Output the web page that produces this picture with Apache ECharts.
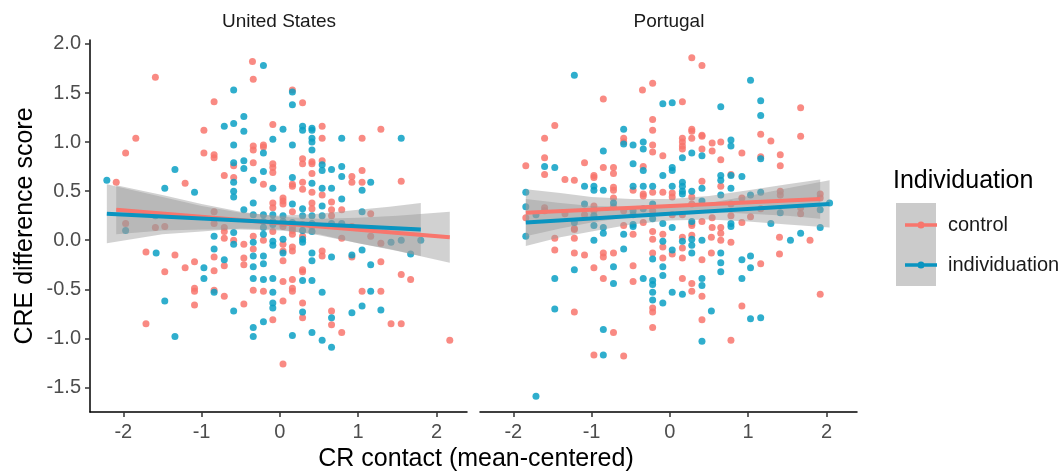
<!DOCTYPE html>
<html>
<head>
<meta charset="utf-8">
<script src="https://cdn.jsdelivr.net/npm/echarts@6/dist/echarts.min.js"></script>
<style>
  html, body { margin: 0; padding: 0; background: #fff; }
  #chart { width: 1062px; height: 472px; }
</style>
</head>
<body>
<div id="chart"></div>
<script>
// tick labels
var xTicks = [-2, -1, 0, 1, 2];
var yTicks = [-1.5, -1, -0.5, 0, 0.5, 1, 1.5, 2];
var groups = ['control', 'individuation'];

// United States, control
var usControl = [
  [-0.35,1.82],[-1.59,1.66],[-0.34,1.64],[-0.84,1.41],[-0.09,1.18],[-0.97,1.12],[-1.84,1.04],[-1.97,0.89],
  [-0.97,0.89],[-0.84,0.87],[-0.84,0.84],[-0.34,0.96],[-0.34,0.92],[-0.21,0.97],[-0.21,0.95],[-0.59,0.76],
  [-0.34,0.79],[-0.09,0.78],[-0.09,0.74],[-0.09,0.69],[-0.71,0.66],[-0.59,0.64],[-2.09,0.59],[-1.21,0.58],
  [-0.21,0.57],[0.04,0.43],[0.04,0.40],[-0.09,0.38],[-0.09,0.33],[-0.84,0.29],[0.04,0.17],[-1.97,0.17],
  [-1.59,0.13],[-1.47,0.14],[-0.84,0.17],[-0.71,0.13],[-0.71,0.09],[-0.71,0.02],[-0.59,0.00],[-0.46,-0.04],
  [-0.34,0.04],[-0.34,-0.09],[-0.21,0.00],[0.04,-0.04],[-1.71,-0.12],[-1.34,-0.15],[-0.84,-0.17],[-0.71,-0.26],
  [-0.46,-0.18],[-0.46,-0.25],[0.04,-0.21],[-1.09,-0.22],[-1.21,-0.28],[-0.84,-0.31],[-1.47,-0.32],[0.04,-0.42],
  [-1.09,-0.49],[-1.09,-0.52],[-0.84,-0.51],[-0.34,-0.51],[-0.21,-0.52],[-0.71,-0.57],[-1.09,-0.66],[-0.46,-0.65],
  [0.04,-0.62],[-0.09,-0.81],[-1.71,-0.85],[0.04,-1.26],
  [0.16,1.53],[0.29,1.40],[0.54,1.16],[0.54,1.04],[1.05,1.04],[1.29,1.13],[0.29,0.83],[0.29,0.78],
  [0.41,0.80],[0.41,0.78],[0.54,0.81],[0.41,0.68],[0.92,0.65],[0.92,0.59],[1.05,0.71],[1.05,0.59],
  [1.55,0.60],[0.16,0.57],[0.16,0.55],[0.29,0.59],[0.29,0.52],[0.41,0.49],[0.54,0.46],[0.04,0.37],
  [0.41,0.38],[0.41,0.32],[0.66,0.39],[0.66,0.31],[0.79,0.31],[0.16,0.29],[0.66,0.25],[1.16,0.27],
  [0.04,0.14],[0.29,0.16],[0.92,0.14],[0.16,0.13],[0.16,0.10],[0.16,0.06],[0.41,0.14],[0.79,0.02],
  [1.16,0.04],[1.29,-0.03],[-0.09,0.09],[0.04,-0.11],[0.16,-0.07],[0.16,-0.11],[0.29,0.04],[0.54,-0.11],
  [0.54,-0.16],[0.92,-0.17],[1.29,-0.22],[1.55,-0.35],[1.67,-0.40],[0.16,-0.40],[0.29,-0.30],[0.29,-0.32],
  [0.16,-0.49],[0.16,-0.52],[0.29,-0.64],[0.29,-0.79],[0.66,-0.72],[0.66,-0.86],[0.79,-0.94],[1.05,-0.52],
  [1.29,-0.52],[1.42,-0.85],[1.55,-0.85],[2.17,-1.02]
];
// United States, individuation
var usIndiv = [
  [-0.21,1.78],[-0.59,1.53],[-0.46,1.26],[-0.71,1.16],[-0.59,1.19],[0.04,1.13],[-0.46,1.11],[-0.09,1.03],
  [-0.59,0.97],[-0.21,0.89],[-0.59,0.79],[-0.46,0.81],[-0.46,0.73],[-1.34,0.72],[-0.59,0.59],[-0.21,0.70],
  [-0.34,0.61],[-2.21,0.61],[-0.09,0.53],[-1.47,0.53],[-1.09,0.49],[-0.59,0.50],[-0.59,0.44],[-0.34,0.38],
  [-0.46,0.31],[-0.34,0.26],[-0.21,0.26],[-0.09,0.26],[-1.59,0.25],[-0.21,0.19],[-0.09,0.19],[-0.09,0.16],
  [0.04,0.25],[-1.97,0.10],[-0.59,0.08],[-0.84,0.04],[-0.59,-0.04],[-0.34,-0.02],[-0.21,0.13],[-0.21,0.06],
  [-0.09,-0.01],[-0.09,-0.05],[0.04,0.01],[-1.58,-0.13],[-0.84,-0.09],[-0.71,-0.20],[-0.34,-0.16],[-0.21,-0.16],
  [-0.21,-0.24],[-0.34,-0.27],[0.04,-0.13],[-0.97,-0.28],[-0.97,-0.39],[-0.34,-0.39],[-0.21,-0.40],[-0.09,-0.39],
  [-0.84,-0.53],[-0.09,-0.53],[-1.47,-0.62],[-0.09,-0.64],[-0.09,-0.69],[-0.59,-0.72],[-0.21,-0.83],[-0.34,-0.89],
  [-0.34,-0.98],[-1.34,-0.98],
  [0.16,1.51],[0.16,1.38],[0.29,1.16],[0.29,1.12],[0.41,1.14],[0.41,1.12],[0.16,0.97],[0.41,1.04],
  [0.79,1.04],[1.55,1.04],[0.41,1.00],[0.41,0.92],[0.54,0.77],[0.54,0.71],[0.66,0.72],[0.79,0.75],
  [0.79,0.65],[0.16,0.64],[1.05,0.51],[1.16,0.59],[0.41,0.58],[0.54,0.53],[0.66,0.53],[0.79,0.42],
  [0.16,0.37],[0.29,0.32],[0.54,0.35],[0.29,0.25],[0.41,0.25],[0.54,0.25],[1.05,0.29],[0.04,0.19],
  [0.16,0.18],[0.41,0.17],[0.66,0.17],[0.79,0.17],[0.29,0.10],[0.41,0.09],[1.42,-0.02],[1.55,0.00],
  [1.80,0.00],[0.29,0.01],[0.29,-0.02],[0.41,-0.13],[0.41,-0.21],[0.66,-0.17],[0.92,-0.15],[1.05,-0.10],
  [1.16,-0.25],[1.67,-0.14],[0.29,-0.41],[0.41,-0.41],[0.29,-0.73],[0.54,-0.53],[0.66,-0.79],[0.92,-0.74],
  [1.16,-0.52],[1.05,-0.67],[1.29,-0.71],[0.16,-0.97],[0.41,-0.94],[0.54,-1.02],[0.66,-1.09]
];
// Portugal, control
var ptControl = [
  [-0.22,1.60],[-0.35,1.53],[-0.85,1.44],[-1.47,1.17],[-1.60,1.04],[-0.22,1.23],[-0.22,1.12],[-0.59,1.04],
  [-0.59,1.00],[-0.22,0.97],[-0.22,0.90],[-1.60,0.84],[-0.09,0.86],[-1.84,0.76],[-1.09,0.79],[-0.85,0.74],
  [-0.72,0.74],[-0.72,0.68],[-0.34,0.75],[-1.60,0.67],[-1.34,0.62],[-1.22,0.61],[-0.97,0.66],[-0.97,0.64],
  [-0.72,0.54],[-0.72,0.51],[-0.72,0.43],[-0.47,0.51],[-0.34,0.47],[-0.34,0.45],[-0.22,0.49],[-0.09,0.49],
  [-1.84,0.23],[-1.60,0.33],[-1.60,0.30],[-1.34,0.27],[-1.09,0.26],[-0.97,0.35],[-0.97,0.30],[-0.72,0.34],
  [-0.59,0.30],[-0.22,0.30],[-1.22,0.12],[-0.59,0.15],[-0.34,0.18],[-1.47,0.02],[-1.47,-0.10],[-1.22,0.11],
  [-1.22,0.02],[-1.22,-0.13],[-1.09,-0.15],[-0.97,-0.28],[-0.85,-0.13],[-0.85,-0.17],[-0.72,-0.13],[-0.85,-0.39],
  [-0.47,0.06],[-0.47,-0.26],[-0.47,-0.42],[-0.22,0.09],[-0.22,0.01],[-0.22,-0.13],[-0.22,-0.69],[-0.22,-0.73],
  [-0.22,-0.89],[-0.09,0.06],[-0.09,-0.07],[-0.09,-0.18],[-1.22,-0.73],[-0.72,-0.94],[-0.97,-1.17],[-0.59,-1.18],
  [0.28,1.86],[0.41,1.78],[0.16,1.41],[1.67,1.35],[0.28,1.13],[0.28,1.11],[0.28,1.04],[0.41,1.07],
  [0.41,1.06],[0.16,1.04],[0.16,1.00],[0.16,0.96],[0.16,0.93],[0.65,1.00],[1.16,1.08],[1.29,1.01],
  [1.67,1.06],[0.54,0.99],[0.41,0.93],[0.54,0.91],[0.65,0.82],[0.92,0.89],[1.16,0.85],[1.41,0.87],
  [1.41,0.76],[0.78,0.67],[0.41,0.60],[0.65,0.55],[0.03,0.48],[0.03,0.44],[0.28,0.44],[0.92,0.43],
  [1.41,0.50],[1.41,0.46],[1.92,0.47],[1.92,0.43],[0.28,0.37],[0.78,0.37],[1.16,0.32],[1.67,0.33],
  [1.67,0.27],[0.03,0.26],[0.16,0.26],[0.28,0.17],[0.41,0.19],[0.54,0.23],[0.78,0.25],[0.92,0.18],
  [1.03,0.24],[0.54,0.13],[0.65,0.13],[0.28,0.15],[0.65,0.07],[0.03,-0.14],[0.16,0.03],[0.16,-0.08],
  [0.16,-0.18],[0.28,0.05],[0.41,-0.20],[0.53,0.03],[0.53,-0.13],[0.65,0.00],[0.78,-0.02],[1.16,-0.24],
  [1.40,0.03],[1.79,0.00],[1.40,-0.14],[0.16,-0.39],[0.28,-0.44],[0.28,-0.52],[0.41,-0.57],[0.41,-0.81],
  [0.92,-0.67],[1.92,-0.55],[0.78,-1.02]
];
// Portugal, individuation
var ptIndiv = [
  [-1.22,1.68],[-0.09,1.39],[-0.59,1.13],[-0.59,0.98],[-0.47,0.97],[-0.34,1.00],[-0.34,0.93],[-0.85,0.91],
  [-1.60,0.75],[-1.47,0.74],[-0.47,0.78],[-0.34,0.71],[-0.09,0.66],[-1.09,0.55],[-0.97,0.55],[-0.97,0.51],
  [-0.85,0.51],[-0.47,0.55],[-0.34,0.55],[-0.22,0.55],[-1.84,0.49],[-1.84,0.34],[-1.71,0.26],[-1.09,0.37],
  [-0.97,0.25],[-0.72,0.38],[-0.47,0.30],[-0.47,0.26],[-0.34,0.32],[-0.22,0.37],[-1.22,0.18],[-0.97,0.15],
  [-0.85,0.13],[-0.47,0.16],[-0.22,0.22],[-0.09,0.17],[-1.84,0.04],[-0.97,0.00],[-0.85,0.07],[-0.72,-0.27],
  [-0.72,-0.44],[-0.59,0.06],[-0.59,-0.09],[-0.47,0.14],[-0.34,-0.39],[-0.22,-0.19],[-0.22,-0.41],[-0.22,-0.45],
  [-0.22,-0.53],[-0.22,-0.61],[-0.09,-0.01],[-0.09,-0.27],[-0.09,-0.36],[-0.09,-0.64],[-1.47,-0.39],[-1.22,-0.30],
  [-1.47,-0.70],[-0.85,-0.91],[-0.85,-1.17],[-1.71,-1.59],
  [1.03,1.63],[0.03,1.40],[0.65,1.36],[1.16,1.42],[1.16,1.27],[0.78,1.02],[0.78,0.96],[0.28,0.89],
  [0.41,0.86],[0.16,0.84],[1.16,0.83],[0.03,0.74],[0.03,0.71],[0.16,0.59],[0.16,0.55],[0.03,0.55],
  [0.65,0.66],[0.65,0.61],[0.78,0.66],[0.92,0.65],[0.78,0.53],[0.28,0.50],[0.16,0.50],[0.16,0.47],
  [0.41,0.53],[0.65,0.46],[1.03,0.46],[1.16,0.49],[2.04,0.38],[0.41,0.40],[1.41,0.28],[1.92,0.31],
  [0.28,0.19],[0.78,0.17],[0.78,0.14],[1.29,0.17],[0.03,0.13],[1.92,0.13],[1.67,0.07],[0.16,-0.01],
  [0.28,0.01],[0.28,-0.05],[0.28,-0.13],[0.41,0.00],[0.03,-0.10],[0.65,-0.13],[0.65,-0.23],[0.65,-0.32],
  [0.92,-0.20],[1.03,-0.16],[1.03,-0.28],[1.54,0.00],[0.03,-0.53],[0.16,-0.55],[0.41,-0.39],[0.41,-0.46],
  [0.92,-0.39],[0.53,-0.72],[1.03,-0.80],[1.16,-0.79],[0.41,-1.03]
];

// fitted lines (ends)
var usControlFit = [[-2.09, 0.31], [2.17, 0.03]];
var usIndivFit = [[-2.21, 0.27], [1.80, 0.11]];
var ptControlFit = [[-1.84, 0.28], [1.92, 0.42]];
var ptIndivFit = [[-1.84, 0.18], [2.04, 0.37]];

// confidence bands: [x, lower, upper]
var usControlBand = [[-2.09,0.06,0.56],[-1.5,0.10,0.46],[-1,0.11,0.37],[-0.5,0.11,0.29],[0,0.10,0.24],[0.5,0.06,0.22],[1,-0.03,0.23],[1.5,-0.11,0.25],[2.17,-0.23,0.29]];
var usIndivBand = [[-2.21,-0.03,0.57],[-1.5,0.06,0.44],[-1,0.09,0.35],[-0.5,0.12,0.28],[0,0.11,0.25],[0.5,0.05,0.27],[1,-0.03,0.31],[1.4,-0.09,0.34],[1.80,-0.16,0.38]];
var ptControlBand = [[-1.84,0.04,0.52],[-1.4,0.12,0.48],[-1,0.18,0.44],[-0.5,0.24,0.42],[0,0.28,0.42],[0.5,0.29,0.45],[1,0.27,0.51],[1.5,0.25,0.57],[1.92,0.22,0.62]];
var ptIndivBand = [[-1.84,-0.06,0.42],[-1.4,0.03,0.38],[-1,0.09,0.35],[-0.5,0.16,0.34],[0,0.20,0.34],[0.5,0.21,0.38],[1,0.19,0.45],[1.5,0.16,0.53],[2.04,0.13,0.61]];

var red = '#F8766D';
var blue = '#0AA0C4';
var blueLine = '#0A94C0';
var font = 'Liberation Sans, Arial, sans-serif';
var keyIcon = 'path://M0,3h36v4h-36z M22,5A4,4 0 1,1 14,5A4,4 0 1,1 22,5z';

var myChart = echarts.init(document.getElementById('chart'));

function band(data, gi) {
  return {
    type: 'custom',
    xAxisIndex: gi, yAxisIndex: gi,
    silent: true,
    z: 3,
    data: data,
    encode: { x: 0, y: [1, 2] },
    renderItem: function (params, api) {
      if (params.dataIndex !== 0) return;
      var p = [];
      data.forEach(function (d) { p.push(api.coord([d[0], d[2]])); });
      for (var i = data.length - 1; i >= 0; i--) p.push(api.coord([data[i][0], data[i][1]]));
      return { type: 'polygon', shape: { points: p }, style: { fill: 'rgba(153,153,153,0.45)' } };
    }
  };
}
function pts(name, data, color, gi) {
  return { name: name, type: 'scatter', xAxisIndex: gi, yAxisIndex: gi, data: data, symbolSize: 7,
    itemStyle: { color: color, opacity: 0.85 }, z: 2, silent: true };
}
function fit(name, data, color, gi) {
  return { name: name, type: 'line', xAxisIndex: gi, yAxisIndex: gi, data: data, showSymbol: false,
    lineStyle: { color: color, width: 4 }, itemStyle: { color: color }, z: 4, silent: true };
}

var xAxisBase = {
  type: 'value', min: -2.425, max: 2.39,
  axisLine: { onZero: false, lineStyle: { color: '#000', width: 1.5 } },
  axisTick: { customValues: xTicks, length: 5, lineStyle: { color: '#333', width: 1.5 } },
  axisLabel: { customValues: xTicks, color: '#4d4d4d', fontSize: 20, fontFamily: font, margin: 10 },
  splitLine: { show: false }
};
var yAxisBase = {
  type: 'value', min: -1.75, max: 2.04,
  splitLine: { show: false }
};

var option = {
  animation: false,
  grid: [
    { left: 90, top: 40, width: 377, height: 372 },
    { left: 480, top: 40, width: 377, height: 372 }
  ],
  xAxis: [
    Object.assign({ gridIndex: 0 }, xAxisBase),
    Object.assign({ gridIndex: 1 }, xAxisBase)
  ],
  yAxis: [
    Object.assign({ gridIndex: 0,
      name: 'CRE difference score', nameLocation: 'middle', nameRotate: 90, nameGap: 52,
      nameTextStyle: { color: '#000', fontSize: 25, fontFamily: font },
      axisLine: { show: true, onZero: false, lineStyle: { color: '#000', width: 1.5 } },
      axisTick: { show: true, customValues: yTicks, length: 5, lineStyle: { color: '#333', width: 1.5 } },
      axisLabel: { customValues: yTicks, color: '#4d4d4d', fontSize: 20, fontFamily: font, margin: 9,
        formatter: function (v) { return v.toFixed(1); } }
    }, yAxisBase),
    Object.assign({ gridIndex: 1,
      axisLine: { show: false }, axisTick: { show: false }, axisLabel: { show: false }
    }, yAxisBase)
  ],
  legend: {
    orient: 'vertical', left: 900, top: 210, itemWidth: 32, itemHeight: 8, itemGap: 20,
    selectedMode: false,
    data: [
      { name: 'control', icon: keyIcon, itemStyle: { color: red, opacity: 1 } },
      { name: 'individuation', icon: keyIcon, itemStyle: { color: blueLine, opacity: 1 } }
    ],
    textStyle: { color: '#1a1a1a', fontSize: 20, fontFamily: font, padding: [0, 0, 0, 6] }
  },
  graphic: [
    { type: 'rect', left: 896, top: 203, z: -1, shape: { width: 40, height: 83 }, style: { fill: '#cbcbcb' } },
    { type: 'text', x: 893, y: 181, style: { text: 'Individuation', fontSize: 25, fontFamily: font, fill: '#000', align: 'left', verticalAlign: 'middle' } },
    { type: 'text', x: 279, y: 22, style: { text: 'United States', fontSize: 19, fontFamily: font, fill: '#1a1a1a', align: 'center', verticalAlign: 'middle' } },
    { type: 'text', x: 669, y: 22, style: { text: 'Portugal', fontSize: 19, fontFamily: font, fill: '#1a1a1a', align: 'center', verticalAlign: 'middle' } },
    { type: 'text', x: 476, y: 459, style: { text: 'CR contact (mean-centered)', fontSize: 25, fontFamily: font, fill: '#000', align: 'center', verticalAlign: 'middle' } }
  ],
  series: [
    pts(groups[0], usControl, red, 0),
    pts(groups[1], usIndiv, blue, 0),
    pts(groups[0], ptControl, red, 1),
    pts(groups[1], ptIndiv, blue, 1),
    band(usControlBand, 0),
    band(usIndivBand, 0),
    band(ptControlBand, 1),
    band(ptIndivBand, 1),
    fit(groups[0], usControlFit, red, 0),
    fit(groups[1], usIndivFit, blueLine, 0),
    fit(groups[0], ptControlFit, red, 1),
    fit(groups[1], ptIndivFit, blueLine, 1)
  ]
};
myChart.setOption(option);
</script>
</body>
</html>
